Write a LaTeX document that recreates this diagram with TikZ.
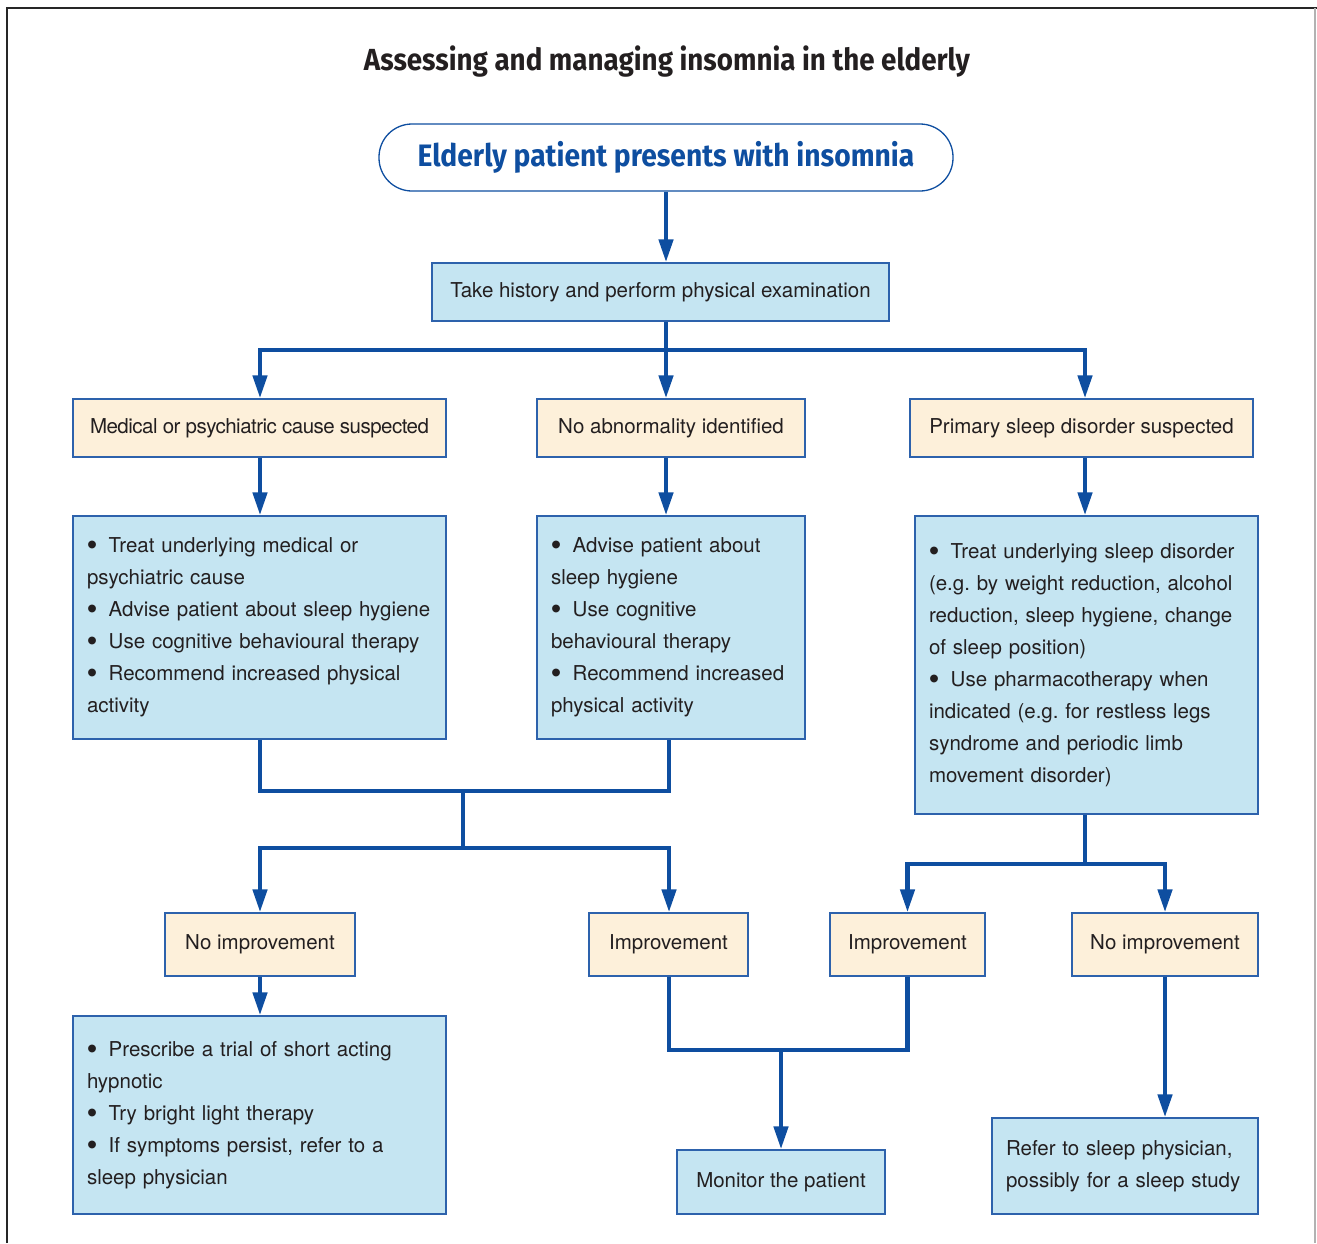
\documentclass[tikz,border=0pt]{standalone}
\usepackage{fontspec}
\setmainfont{TeX Gyre Heros}
\newfontfamily\headfont[FakeStretch=0.91]{Fira Sans}
\newfontfamily\bulfont{Liberation Sans}
\usetikzlibrary{arrows.meta}
\definecolor{lineblue}{RGB}{14,78,160}
\definecolor{edgeblue}{RGB}{45,98,172}
\definecolor{paleblue}{RGB}{197,229,242}
\definecolor{cream}{RGB}{253,240,218}
\definecolor{ink}{RGB}{35,31,32}
\newcommand\bul{\makebox[1.06em][l]{\raisebox{-0.09em}{\scalebox{1.4}{\bulfont •}}}}
\hyphenpenalty=10000
\exhyphenpenalty=10000
\begin{document}
\begin{tikzpicture}[x=1pt,y=-1pt,
  body/.style={font=\fontsize{20.5}{32}\selectfont, text=ink},
  bluebox/.style={body, draw=edgeblue, fill=paleblue, line width=1.3pt, inner xsep=14pt, inner ysep=0pt},
  creambox/.style={bluebox, fill=cream, inner xsep=8pt},
  conn/.style={draw=lineblue, line width=4.5pt, line join=miter},
  arr/.style={conn, -{Triangle[length=23pt,width=14pt]}}]
\useasboundingbox (0,0) rectangle (1317,1243);
\draw[black!85, line width=1.5pt] (7,1243) -- (7,8) -- (1317,8);
\draw[black!30, line width=1.2pt] (1315,8) -- (1315,1243);

\node[font=\headfont\bfseries\fontsize{30.5}{36}\selectfont, text=ink] (title) at (667,62) {Assessing and managing insomnia in the elderly};
\node[draw=lineblue, line width=1.3pt, fill=white, rounded corners=33pt, minimum width=574, minimum height=67, inner sep=0pt, text=lineblue, font=\headfont\bfseries\fontsize{31}{36}\selectfont] (start) at (666,157.5) {Elderly patient presents with insomnia};
\node[bluebox, minimum width=457, minimum height=58] (hist) at (660.5,292) {Take history and perform physical examination};

\node[creambox, minimum width=373, minimum height=58, font=\fontsize{20.5}{32}\selectfont\addfontfeatures{LetterSpace=-2.5}] (med) at (259.5,428) {Medical or psychiatric cause suspected};
\node[creambox, minimum width=268, minimum height=58] (noab) at (671,428) {No abnormality identified};
\node[creambox, minimum width=343, minimum height=58] (prim) at (1081.5,428) {Primary sleep disorder suspected};

\node[bluebox, minimum width=373, minimum height=223, text width=345, align=left] (treatL) at (259.5,627.5) {\bul Treat underlying medical or\\ psychiatric cause\\ \bul Advise patient about sleep hygiene\\ \bul Use cognitive behavioural therapy\\ \bul Recommend increased physical\\ activity};
\node[bluebox, minimum width=268, minimum height=223, text width=240, align=left] (treatM) at (671,627.5) {\bul Advise patient about\\ sleep hygiene\\ \bul Use cognitive\\ behavioural therapy\\ \bul Recommend increased\\ physical activity};
\node[bluebox, minimum width=343, minimum height=298, text width=315, align=left] (treatR) at (1086.5,665) {\bul Treat underlying sleep disorder\\ (e.g.\ by weight reduction, alcohol\\ reduction, sleep hygiene, change\\ of sleep position)\\ \bul Use pharmacotherapy when\\ indicated (e.g.\ for restless legs\\ syndrome and periodic limb\\ movement disorder)};

\node[creambox, minimum width=190, minimum height=63] (noimpL) at (260,944.5) {No improvement};
\node[creambox, minimum width=159, minimum height=63] (impL) at (668.5,944.5) {Improvement};
\node[creambox, minimum width=155, minimum height=63] (impR) at (907.5,944.5) {Improvement};
\node[creambox, minimum width=186, minimum height=63] (noimpR) at (1165,944.5) {No improvement};

\node[bluebox, minimum width=373, minimum height=198, text width=345, align=left] (hypn) at (259.5,1115) {\bul Prescribe a trial of short acting\\ hypnotic\\ \bul Try bright light therapy\\ \bul If symptoms persist, refer to a\\ sleep physician};
\node[bluebox, minimum width=208, minimum height=64] (monitor) at (781,1182) {Monitor the patient};
\node[bluebox, minimum width=266, minimum height=96, text width=238, align=left] (refer) at (1125,1166) {Refer to sleep physician,\\ possibly for a sleep study};

\coordinate (cL) at (260,0);
\coordinate (cM) at (666,0);
\coordinate (cR) at (1085,0);
\coordinate (cI) at (669,0);
\coordinate (j1) at (666,350);
\coordinate (m1) at (463,791);
\coordinate (s2) at (463,848);
\coordinate (s3) at (1085,864);
\coordinate (m4) at (781,1050);

\draw[arr] (start.south -| cM) -- (hist.north -| cM);
\draw[conn] (hist.south -| cM) -- (j1);
\draw[arr] (j1) -| (med.north -| cL);
\draw[arr] (j1) -- (noab.north -| cM);
\draw[arr] (j1) -| (prim.north -| cR);
\draw[arr] (med.south -| cL) -- (treatL.north -| cL);
\draw[arr] (noab.south -| cM) -- (treatM.north -| cM);
\draw[arr] (prim.south -| cR) -- (treatR.north -| cR);
\draw[conn] (treatL.south -| cL) |- (m1) -| (treatM.south -| cI);
\draw[conn] (m1) -- (s2);
\draw[arr] (s2) -| (noimpL.north -| cL);
\draw[arr] (s2) -| (impL.north -| cI);
\draw[conn] (treatR.south -| cR) -- (s3);
\draw[arr] (s3) -| (impR.north);
\draw[arr] (s3) -| (noimpR.north);
\draw[arr] (noimpL.south -| cL) -- (hypn.north -| cL);
\draw[conn] (impL.south -| cI) |- (m4) -| (impR.south);
\draw[arr] (m4) -- (monitor.north);
\draw[arr] (noimpR.south) -- (refer.north -| noimpR.south);
\end{tikzpicture}
\end{document}
